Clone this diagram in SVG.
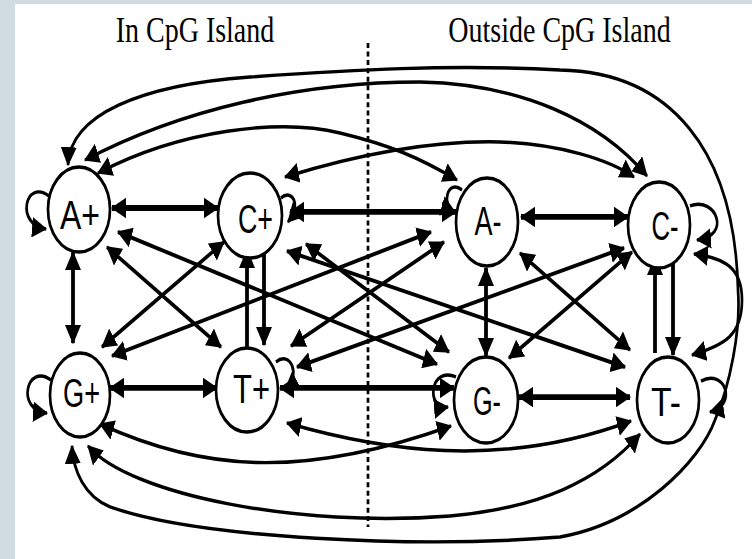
<svg xmlns="http://www.w3.org/2000/svg" width="752" height="559" viewBox="0 0 752 559">
<style>
.bg{fill:#d0dce2}
.node{fill:#fff;stroke:#000;stroke-width:2.7}
.lbl{font-family:"Liberation Sans",Arial,sans-serif;font-size:32px;fill:#000;text-anchor:middle}
.ttl{font-family:"Liberation Serif","Times New Roman",serif;font-size:28px;fill:#000;text-anchor:middle}
.e{fill:none;stroke:#000;stroke-width:2.7}
.d{fill:none;stroke:#000;stroke-width:3.1}
.h{fill:none;stroke:#000;stroke-width:4.5}
.v{fill:none;stroke:#000;stroke-width:3.8}
.two{marker-start:url(#ah);marker-end:url(#ah)}
.one{marker-end:url(#ah)}
.sep{fill:none;stroke:#000;stroke-width:2.7;stroke-dasharray:3.9 2.7}
</style>
<defs>
<marker id="ah" viewBox="0 0 15 16" refX="14" refY="8" markerWidth="15" markerHeight="16" markerUnits="userSpaceOnUse" orient="auto-start-reverse">
<path d="M0,0 L15,8 L0,16 z" fill="#000"/>
</marker>
</defs>
<rect width="752" height="559" fill="#fff"/>
<rect class="bg" x="0" y="0" width="752" height="4"/>
<rect class="bg" x="0" y="0" width="15" height="559"/>
<g transform="scale(1 1.28)">
<text class="ttl" x="195" y="32.8">In CpG Island</text>
<text class="ttl" x="559.5" y="32.8">Outside CpG Island</text>
<line class="sep" x1="368" y1="33.6" x2="368" y2="411.7"/>
<g id="connectors">
<path class="h two" d="M112,162.5 H218"/>
<path class="h two" d="M290,165.6 H456"/>
<path class="h two" d="M521,169.5 H628"/>
<path class="h two" d="M110,303.1 H217"/>
<path class="h two" d="M280,303.1 H454"/>
<path class="h two" d="M519,310.2 H630"/>
<path class="v two" d="M73,197 V268"/>
<path class="v two" d="M486,209.4 V278"/>
<path class="v one" d="M247,271 V195.3"/>
<path class="v one" d="M264,193.75 V269.5"/>
<path class="v one" d="M655,275.8 V200.8"/>
<path class="v one" d="M673,200.8 V277.3"/>
<path class="d two" d="M107,193 L221,271.1"/>
<path class="d two" d="M224,189.1 L102,271.1"/>
<path class="d two" d="M520,197.7 L630,273.4"/>
<path class="d two" d="M632,196.9 L509,279.7"/>
<path class="d two" d="M118,181.25 L437,284.4"/>
<path class="d two" d="M112,278.1 L431,181.25"/>
<path class="d two" d="M287,196.1 L625,286.7"/>
<path class="d two" d="M306,190.6 L449,275"/>
<path class="d two" d="M291,270.3 L444,189.1"/>
<path class="d two" d="M297,286.7 L624,193.75"/>
<path class="e two" d="M68,128.9 C70,89.8 140,66.4 250,60.2 C350,54.7 450,50 560,54.7 C670,56.25 735,117.2 738,226.6 C741,257.8 730,300.8 715,328.1 C700,360.5 640,408.5 560,419.5 C420,428.5 200,421 110,396 C85,388 73,368 72,348.4"/>
<path class="e two" d="M694,198.4 C725,201.6 742,209.4 742,234.4 C742,261.7 725,269.5 692,277.3"/>
<path class="e two" d="M85,125 C180,85.9 300,64.1 420,64.1 C520,65.6 600,93.75 647,137.5"/>
<path class="e two" d="M98,135.2 C180,101.6 280,92.2 340,103.9 C390,113.3 420,123.4 457,140.6"/>
<path class="e two" d="M285,138.3 C340,125 420,109.4 500,110.9 C560,112.5 610,125 634,138.3"/>
<path class="e two" d="M100,331.25 C200,367.2 300,375 451,332.8"/>
<path class="e two" d="M287,330.5 C380,351.6 500,367.2 631,328.9"/>
<path class="e two" d="M88,348.4 C130,386.7 300,412.5 450,403.1 C540,396.9 600,375 640,339.1"/>
<path class="e one" d="M49,153.1 C25,139.1 15,175.8 46,178.9"/>
<path class="e one" d="M51,296.9 C27,282.8 15,320.3 47,322.7"/>
<path class="e one" d="M281,154.7 C292,146.9 302,160.2 288,173.4"/>
<path class="e one" d="M276,282.8 C290,273.4 302,293 285,304.7"/>
<path class="e one" d="M462,148.4 C448,139.1 440,160.2 455,165.6"/>
<path class="e one" d="M690,160.9 C716,153 732,184.4 697,187.5"/>
<path class="e one" d="M456,294.5 C430,285.2 425,320.3 448,318"/>
<path class="e one" d="M701,297.7 C725,287.5 738,316.4 710,321.9"/>
</g>
<g id="node-Aplus"><ellipse class="node" cx="79" cy="163.7" rx="31" ry="33.2"/><text class="lbl" x="80" y="178.9" textLength="40" lengthAdjust="spacingAndGlyphs">A+</text></g>
<g id="node-Cplus"><ellipse class="node" cx="250" cy="168.4" rx="32" ry="33.2"/><text class="lbl" x="255.5" y="182" textLength="35" lengthAdjust="spacingAndGlyphs">C+</text></g>
<g id="node-Aminus"><ellipse class="node" cx="487" cy="173.4" rx="31" ry="34.4"/><text class="lbl" x="488" y="183.6" textLength="27" lengthAdjust="spacingAndGlyphs">A-</text></g>
<g id="node-Cminus"><ellipse class="node" cx="659" cy="175.8" rx="31" ry="33.6"/><text class="lbl" x="665" y="187.5" textLength="27" lengthAdjust="spacingAndGlyphs">C-</text></g>
<g id="node-Gplus"><ellipse class="node" cx="80" cy="308.6" rx="30" ry="32.8"/><text class="lbl" x="81.5" y="318" textLength="37" lengthAdjust="spacingAndGlyphs">G+</text></g>
<g id="node-Tplus"><ellipse class="node" cx="247" cy="304.7" rx="31" ry="32.8"/><text class="lbl" x="251.5" y="314.8" textLength="37" lengthAdjust="spacingAndGlyphs">T+</text></g>
<g id="node-Gminus"><ellipse class="node" cx="486" cy="312.5" rx="32" ry="33.6"/><text class="lbl" x="487" y="324.2" textLength="28" lengthAdjust="spacingAndGlyphs">G-</text></g>
<g id="node-Tminus"><ellipse class="node" cx="668" cy="312.5" rx="31" ry="33.6"/><text class="lbl" x="666" y="325" textLength="30" lengthAdjust="spacingAndGlyphs">T-</text></g>
</g>
</svg>
